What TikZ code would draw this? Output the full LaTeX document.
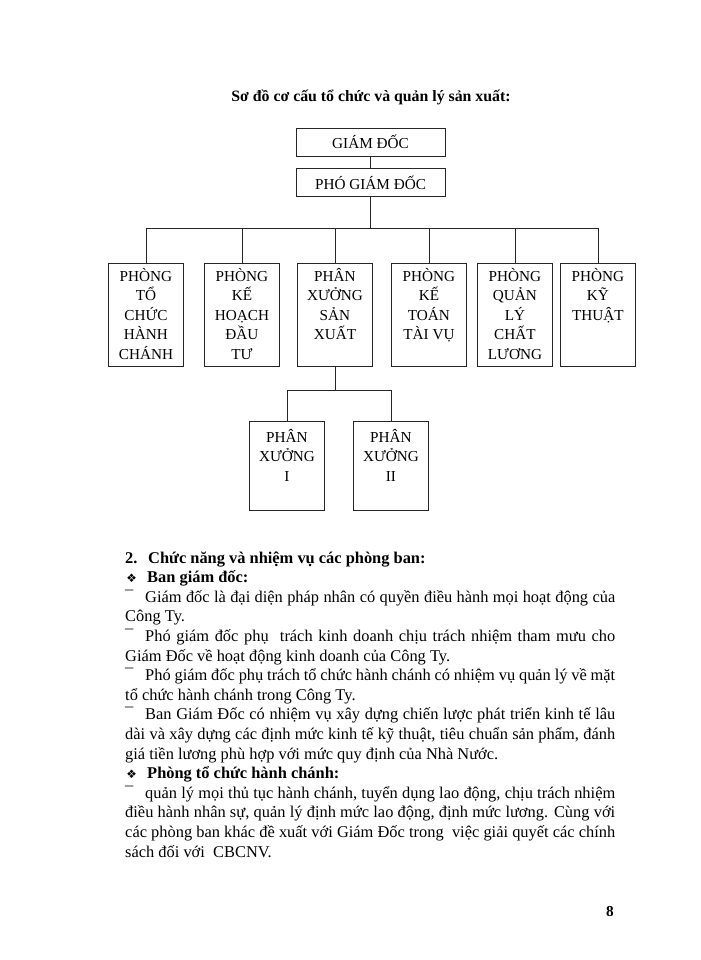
\documentclass[tikz,border=0pt]{standalone}
\usepackage{fontspec}
\setmainfont{Liberation Serif}
\newfontfamily\symfont{DejaVu Sans}
\setlength\parindent{0pt}

\newcommand{\dline}[1]{\makebox[0.6cm][l]{¯}\makebox[14.1cm][s]{#1}}
\newcommand{\fline}[1]{\makebox[14.7cm][s]{#1}}
\newcommand{\bhead}[1]{\makebox[0.66cm][l]{\hspace{1pt}{\symfont\fontsize{10}{10}\selectfont ❖}}\textbf{#1}}
\newcommand{\unitbox}[3]{\parbox[t][#1][t]{2.25cm}{\centering\vspace*{#2}#3}}
\newcommand{\chartfont}{\fontsize{13}{16.6}\selectfont}

\tikzset{
  head/.style={draw=black!85, line width=0.8pt, minimum width=4.47cm, minimum height=0.84cm, inner sep=0pt, font=\chartfont},
  unit/.style={draw=black!85, line width=0.8pt, inner sep=0pt, anchor=north west, font=\chartfont},
  link/.style={draw=black!85, line width=0.8pt},
  row/.style={anchor=base west, inner sep=0pt, font=\fontsize{14}{16.6}\selectfont},
}

\begin{document}
\begin{tikzpicture}[x=0.03cm, y=-0.03cm]
    \fill[white] (0,0) rectangle (700,960);
    \useasboundingbox (0,0) rectangle (700,960);
    % Title
    \node[font=\bfseries\fontsize{13.5}{16}\selectfont] (title) at (371,97) {Sơ đồ cơ cấu tổ chức và quản lý sản xuất:};
    % Board
    \node[head] (gd) at (370.5,142) {GIÁM ĐỐC};
    \node[head] (pgd) at (370.5,182.5) {PHÓ GIÁM ĐỐC};
    \draw[link] (gd) -- (pgd);
    % Departments
    \node[unit] (p1) at (108,263) {\unitbox{3.09cm}{4pt}{PHÒNG\\TỔ\\CHỨC\\HÀNH\\CHÁNH}};
    \node[unit] (p2) at (204,263) {\unitbox{3.09cm}{4pt}{PHÒNG\\KẾ\\HOẠCH\\ĐẦU\\TƯ}};
    \node[unit] (p3) at (297,263) {\unitbox{3.09cm}{4pt}{PHÂN\\XƯỞNG\\SẢN\\XUẤT}};
    \node[unit] (p4) at (391,263) {\unitbox{3.09cm}{4pt}{PHÒNG\\KẾ\\TOÁN\\TÀI VỤ}};
    \node[unit] (p5) at (477,263) {\unitbox{3.09cm}{4pt}{PHÒNG\\QUẢN\\LÝ\\CHẤT\\LƯƠNG}};
    \node[unit] (p6) at (560,263) {\unitbox{3.09cm}{4pt}{PHÒNG\\KỸ\\THUẬT}};
    \foreach \u in {p1,p2,p3,p4,p5,p6}
        \draw[link] (pgd.south) -- ++(0,31) -| (\u.north);
    % Workshops
    \node[unit] (px1) at (249,421) {\unitbox{2.67cm}{6.5pt}{PHÂN\\XƯỞNG\\I}};
    \node[unit] (px2) at (353,421) {\unitbox{2.67cm}{6.5pt}{PHÂN\\XƯỞNG\\II}};
    \foreach \u in {px1,px2}
        \draw[link] (p3.south) -- ++(0,24) -| (\u.north);
    % Functions of the departments
    \node[row] (l1) at (125,563) {\makebox[0.69cm][l]{\textbf{2.}}\textbf{Chức năng và nhiệm vụ các phòng ban:}};
    \node[row] (l2) at (125,582.6) {\bhead{Ban giám đốc:}};
    \node[row] (l3) at (125,602.2) {\dline{Giám đốc là đại diện pháp nhân có quyền điều hành mọi hoạt động của}};
    \node[row] (l4) at (125,621.8) {Công Ty.};
    \node[row] (l5) at (125,641.4) {\dline{Phó giám đốc phụ\ \ trách kinh doanh chịu trách nhiệm tham mưu cho}};
    \node[row] (l6) at (125,661) {Giám Đốc về hoạt động kinh doanh của Công Ty.};
    \node[row] (l7) at (125,680.6) {\dline{Phó giám đốc phụ trách tổ chức hành chánh có nhiệm vụ quản lý về mặt}};
    \node[row] (l8) at (125,700.2) {tổ chức hành chánh trong Công Ty.};
    \node[row] (l9) at (125,719.8) {\dline{Ban Giám Đốc có nhiệm vụ xây dựng chiến lược phát triển kinh tế lâu}};
    \node[row] (l10) at (125,739.4) {\fline{dài và xây dựng các định mức kinh tế kỹ thuật, tiêu chuẩn sản phẩm, đánh}};
    \node[row] (l11) at (125,759) {giá tiền lương phù hợp với mức quy định của Nhà Nước.};
    \node[row] (l12) at (125,778.6) {\bhead{Phòng tổ chức hành chánh:}};
    \node[row] (l13) at (125,798.2) {\dline{quản lý mọi thủ tục hành chánh, tuyển dụng lao động, chịu trách nhiệm}};
    \node[row] (l14) at (125,817.8) {\fline{điều hành nhân sự, quản lý định mức lao động, định mức lương. Cùng với}};
    \node[row] (l15) at (125,837.4) {\fline{các phòng ban khác đề xuất với Giám Đốc trong\ \ việc giải quyết các chính}};
    \node[row] (l16) at (125,857) {sách đối với\ \ CBCNV.};
    % Page number
    \node[font=\bfseries\fontsize{13}{16}\selectfont] (pageno) at (610,911) {8};
\end{tikzpicture}
\end{document}
